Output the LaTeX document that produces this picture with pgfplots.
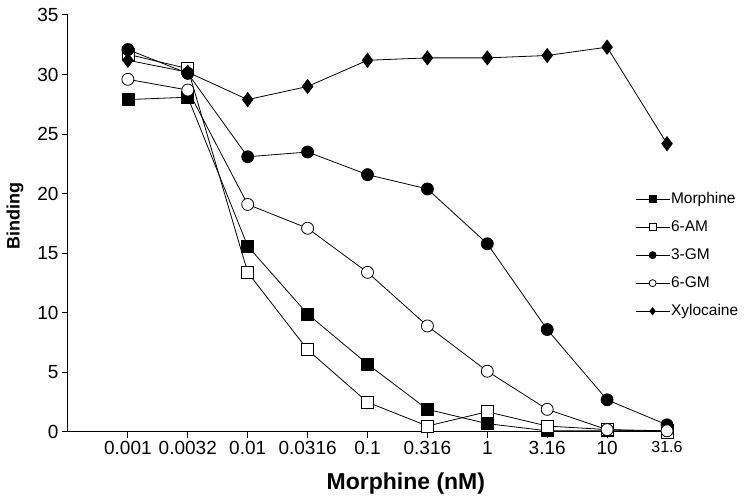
\documentclass[border=0pt]{standalone}
\usepackage{pgfplots}
\pgfplotsset{compat=1.18}
\usepackage{fontspec}
\setmainfont{Liberation Sans}
\begin{document}
\begin{tikzpicture}
\begin{axis}[
  scale only axis, width=599pt, height=417pt,
  at={(0pt,0pt)}, anchor=south west,
  xmin=-1, xmax=9, ymin=0, ymax=35,
  axis lines*=left, axis line style={line width=1pt},
  tick align=outside, major tick length=6pt,
  tick style={line width=1pt, black},
  xtick={0,...,9},
  xticklabels={0.001,0.0032,0.01,0.0316,0.1,0.316,1,3.16,10,{\fontsize{16}{18}\selectfont 31.6}},
  ytick={0,5,...,35},
  /pgf/number format/assume math mode=true,
  ticklabel style={font=\fontsize{19}{21}\selectfont},
  xlabel={Morphine (nM)},
  xlabel style={font=\fontsize{23}{26}\selectfont\bfseries, at={(axis description cs:0.564,-0.124)}, anchor=center},
  ylabel={Binding},
  ylabel style={font=\fontsize{18}{20}\selectfont\bfseries, at={(axis description cs:-0.0885,0.518)}, anchor=center, rotate=0},
  legend style={at={(axis description cs:0.9466,0.578)}, anchor=north west, draw=none, fill=none,
    font=\fontsize{15.5}{17}\selectfont, row sep=12pt, inner sep=0pt,
    nodes={inner sep=1pt, text height=11pt, text depth=3pt}},
  legend cell align=left,
  legend image code/.code={\draw[mark repeat=2,mark phase=2,#1,mark size=3.5pt] plot coordinates {(0pt,0pt) (17pt,0pt) (34pt,0pt)};},
  every axis plot/.append style={line width=0.8pt, black},
]
\addplot[mark=square*, mark size=6pt, mark options={fill=black}] coordinates {
(0,27.9) (1,28.1) (2,15.6) (3,9.9) (4,5.7) (5,1.9) (6,0.7) (7,0.1) (8,0.1) (9,0.1)};
\addlegendentry{Morphine}
\addplot[mark=square*, mark size=6pt, mark options={fill=white}] coordinates {
(0,31.7) (1,30.5) (2,13.4) (3,6.9) (4,2.5) (5,0.5) (6,1.7) (7,0.5) (8,0.2) (9,0.0)};
\addlegendentry{6-AM}
\addplot[mark=*, mark size=6pt, mark options={fill=black}] coordinates {
(0,32.1) (1,30.1) (2,23.1) (3,23.5) (4,21.6) (5,20.4) (6,15.8) (7,8.6) (8,2.7) (9,0.6)};
\addlegendentry{3-GM}
\addplot[mark=*, mark size=6pt, mark options={fill=white}] coordinates {
(0,29.6) (1,28.7) (2,19.1) (3,17.1) (4,13.4) (5,8.9) (6,5.1) (7,1.9) (8,0.2) (9,0.1)};
\addlegendentry{6-GM}
\addplot[mark=diamond*, mark size=7pt, mark options={fill=black}] coordinates {
(0,31.2) (1,30.2) (2,27.9) (3,29.0) (4,31.2) (5,31.4) (6,31.4) (7,31.6) (8,32.3) (9,24.2)};
\addlegendentry{Xylocaine}
\end{axis}
\pgfresetboundingbox
\useasboundingbox (-68pt,-70pt) rectangle (682pt,432pt);
\end{tikzpicture}
\end{document}
